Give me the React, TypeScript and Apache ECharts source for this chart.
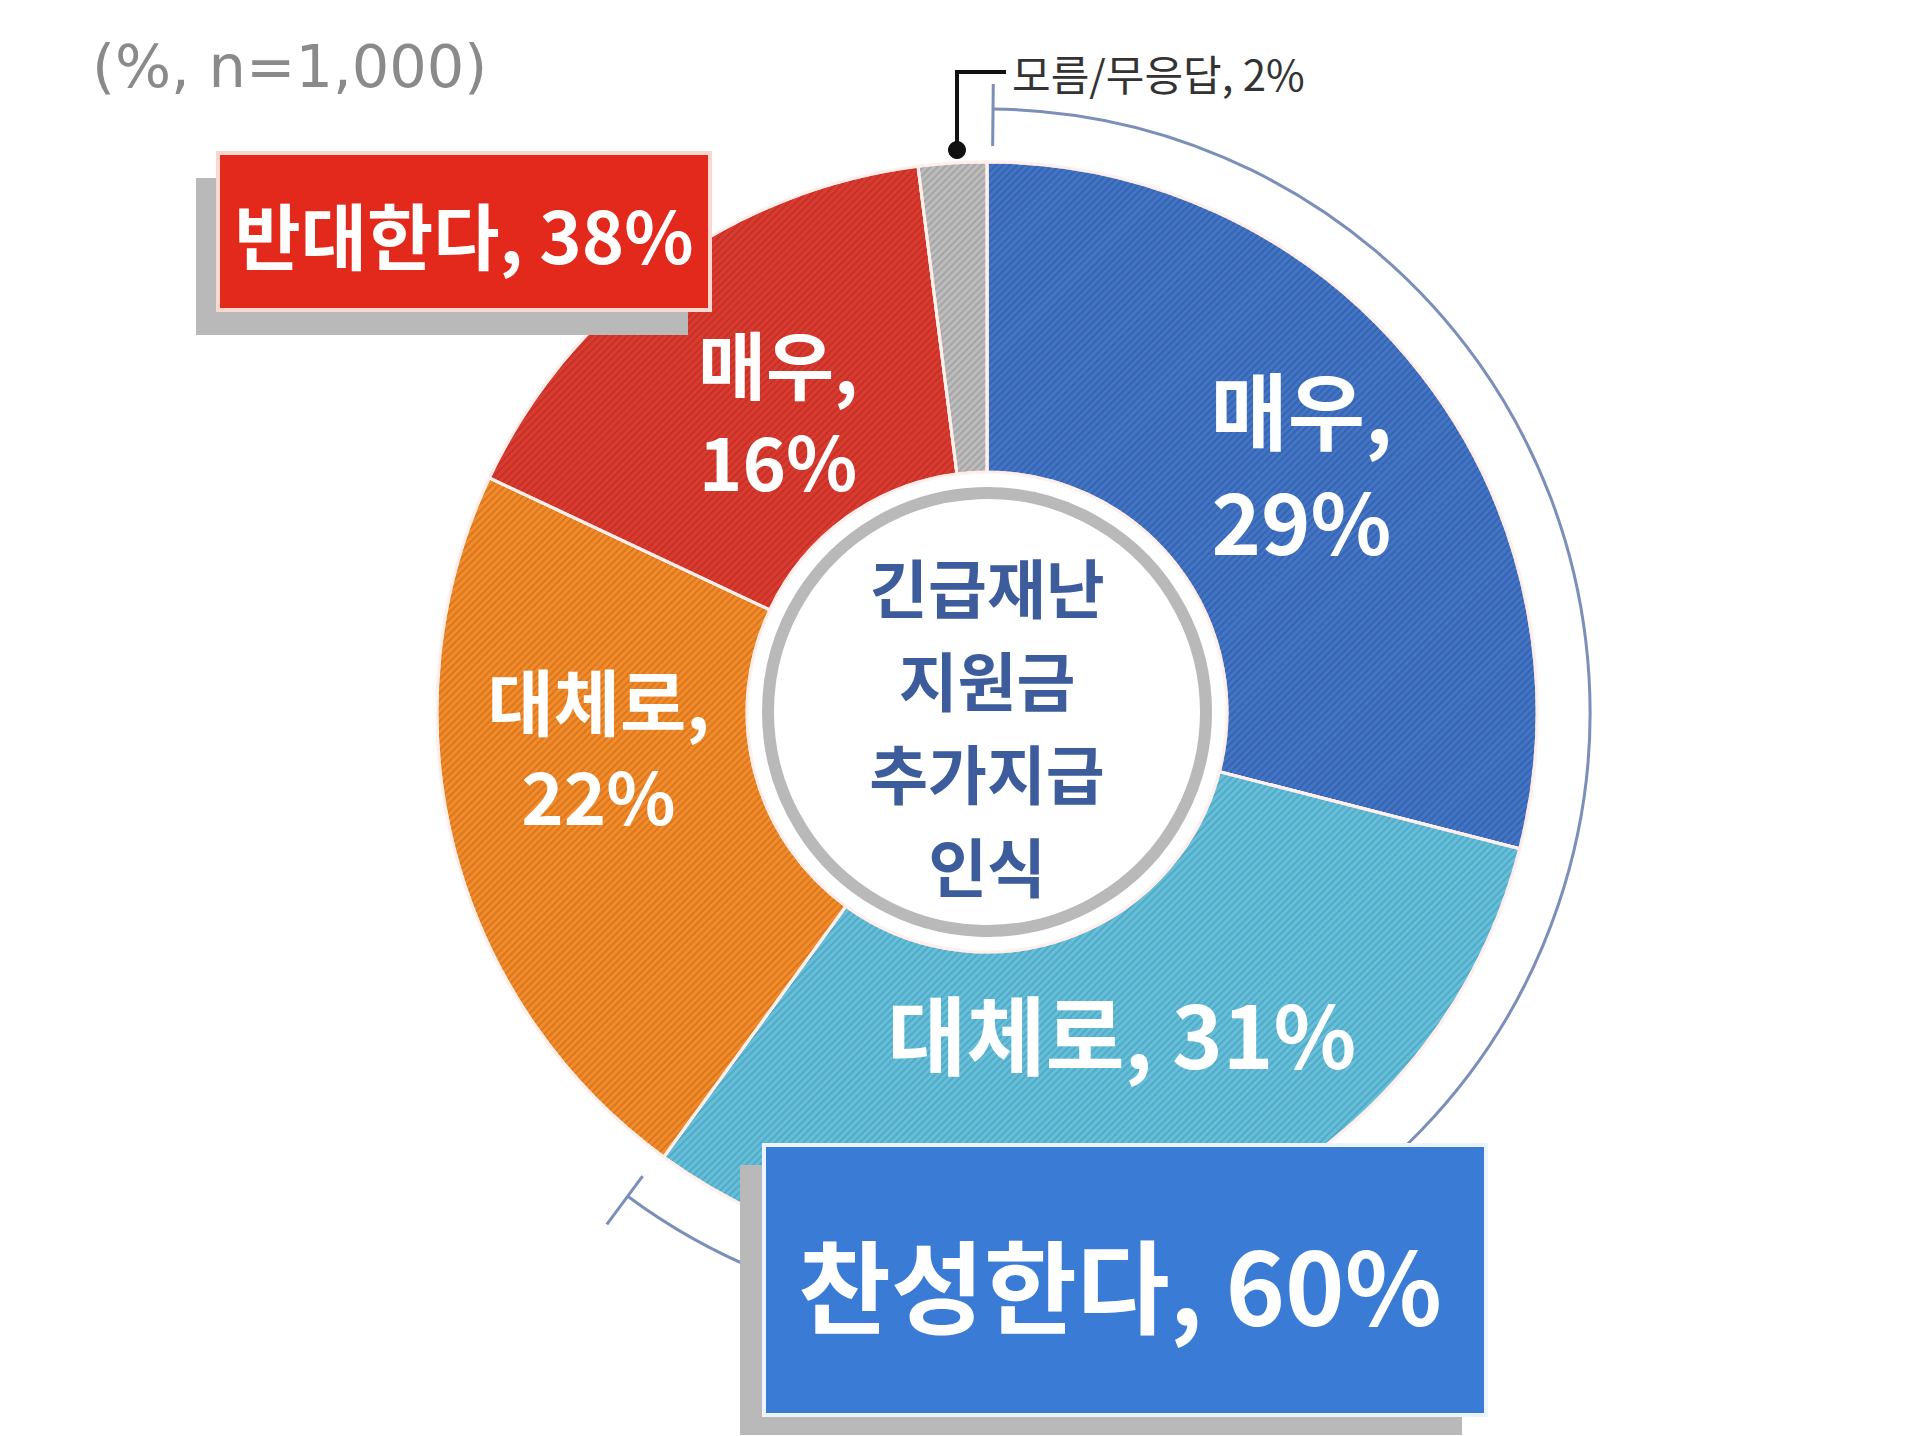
import React, { useEffect, useRef } from "react";
import * as echarts from "echarts";

// survey answers, clockwise from 12 o'clock
const sliceNames = ["매우", "대체로", "대체로", "매우", "모름/무응답"];
const sliceValues = [29, 31, 22, 16, 2];
const sliceGroups = ["agree", "agree", "oppose", "oppose", "none"];
const groupTitles = { agree: "찬성한다", oppose: "반대한다" };
const sampleNote = "(%, n=1,000)";
const centerTitle = ["긴급재난", "지원금", "추가지급", "인식"];

const FONT = '"Noto Sans CJK KR", "Noto Sans", sans-serif';
const CX = 987;
const CY = 712;

const sliceColors = ["#4275c6", "#63c0dc", "#f48a28", "#dc3a2f", "#bcbcbc"];

const App: React.FC = () => {
  const chartRef = useRef<HTMLDivElement>(null);

  useEffect(() => {
    document.body.style.margin = "0";
    if (!chartRef.current) return;
    const chart = echarts.init(chartRef.current, undefined, { renderer: "svg" });

    const groupSum = (g: string) =>
      sliceValues.reduce((s, v, i) => (sliceGroups[i] === g ? s + v : s), 0);
    const agree = groupSum("agree");
    const oppose = groupSum("oppose");

    // bracket arc round the "agree" slices
    const a0 = -Math.PI / 2 + 0.01;
    const a1 = -Math.PI / 2 + (agree / 100) * Math.PI * 2 + 0.01;
    const tick = (a: number, r1: number, r2: number) => ({
      type: "line",
      z: 50,
      shape: {
        x1: CX + r1 * Math.cos(a),
        y1: CY + r1 * Math.sin(a),
        x2: CX + r2 * Math.cos(a),
        y2: CY + r2 * Math.sin(a),
      },
      style: { stroke: "#7b8fb9", lineWidth: 3 },
    });

    const stripe = (color: string) => ({
      symbol: "rect",
      symbolSize: 1,
      dashArrayX: [1, 0],
      dashArrayY: [2, 3],
      rotation: -Math.PI / 4,
      color,
    });

    // nudges of the inside labels from the ring middle
    const labelOffsets = [
      [0, -5],
      [0, -55],
      [-3, -65],
      [25, 20],
      [0, 0],
    ];
    const labelSizes = [84, 86, 72, 74, 42];

    chart.setOption({
      animation: false,
      aria: { enabled: true, label: { enabled: false }, decal: { show: true } },
      series: [
        {
          type: "pie",
          center: [CX, CY],
          radius: [240, 550],
          startAngle: 90,
          clockwise: true,
          silent: true,
          avoidLabelOverlap: false,
          itemStyle: { borderColor: "rgba(255,240,236,0.9)", borderWidth: 3 },
          labelLine: { show: false },
          label: {
            show: true,
            position: "inside",
            color: "#fff",
            fontFamily: FONT,
            fontWeight: "bold",
          },
          data: sliceValues.map((v, i) => {
            const outside = sliceGroups[i] === "none";
            return {
              value: v,
              name: sliceNames[i],
              itemStyle: {
                color: sliceColors[i],
                decal: stripe(i === 0 ? "rgba(20,40,90,0.22)" : "rgba(0,0,0,0.12)"),
              },
              label: outside
                ? {
                    position: "outside",
                    formatter: `${sliceNames[i]}, ${v}%`,
                    color: "#333",
                    fontWeight: "normal",
                    fontSize: labelSizes[i],
                  }
                : {
                    formatter:
                      i === 1 ? `${sliceNames[i]}, ${v}%` : `${sliceNames[i]},\n${v}%`,
                    fontSize: labelSizes[i],
                    lineHeight: labelSizes[i] * 1.32,
                    offset: labelOffsets[i],
                  },
              labelLine: outside
                ? { show: true, lineStyle: { color: "#111", width: 4 } }
                : { show: false },
            };
          }),
          labelLayout: (p: any) =>
            sliceGroups[p.dataIndex] === "none"
              ? {
                  x: 1012,
                  y: 72,
                  align: "left",
                  verticalAlign: "middle",
                  labelLinePoints: [
                    [957, 150],
                    [957, 72],
                    [1006, 72],
                  ],
                }
              : {},
        },
      ],
      graphic: [
        {
          type: "circle",
          z: 60,
          shape: { cx: 957, cy: 150, r: 9 },
          style: { fill: "#111" },
        },
        {
          type: "arc",
          z: 50,
          shape: { cx: CX, cy: CY, r: 603, startAngle: a0, endAngle: a1, clockwise: true },
          style: { stroke: "#7b8fb9", lineWidth: 3, fill: "none" },
        },
        tick(a0, 566, 628),
        tick(a1, 578, 638),
        {
          type: "circle",
          z: 60,
          shape: { cx: CX, cy: CY, r: 219 },
          style: { fill: "#fff", stroke: "#b9b9b9", lineWidth: 12 },
        },
        {
          type: "text",
          z: 61,
          x: CX,
          y: CY + 12,
          style: {
            text: centerTitle.join("\n"),
            align: "center",
            verticalAlign: "middle",
            fontFamily: FONT,
            fontWeight: "bold",
            fontSize: 64,
            lineHeight: 93,
            fill: "#3d5c9c",
          },
        },
        {
          type: "text",
          z: 61,
          x: 92,
          y: 66,
          style: {
            text: sampleNote,
            verticalAlign: "middle",
            fontFamily: '"DejaVu Sans", sans-serif',
            fontSize: 59,
            fill: "#8a8a8a",
          },
        },
        // 반대 box
        {
          type: "rect",
          z: 70,
          shape: { x: 196, y: 178, width: 492, height: 157 },
          style: { fill: "#b9b9b9" },
        },
        {
          type: "rect",
          z: 71,
          shape: { x: 218, y: 153, width: 492, height: 157 },
          style: { fill: "#e2291c", stroke: "#f9d9cf", lineWidth: 4 },
        },
        {
          type: "text",
          z: 72,
          x: 464,
          y: 232,
          style: {
            text: `${groupTitles.oppose}, ${oppose}%`,
            align: "center",
            verticalAlign: "middle",
            fontFamily: FONT,
            fontWeight: "bold",
            fontSize: 72,
            fill: "#fff",
          },
        },
        // 찬성 box
        {
          type: "rect",
          z: 70,
          shape: { x: 740, y: 1165, width: 722, height: 270 },
          style: { fill: "#b9b9b9" },
        },
        {
          type: "rect",
          z: 71,
          shape: { x: 764, y: 1145, width: 722, height: 270 },
          style: { fill: "#3a7bd6", stroke: "#eef4ff", lineWidth: 4 },
        },
        {
          type: "text",
          z: 72,
          x: 1120,
          y: 1282,
          style: {
            text: `${groupTitles.agree}, ${agree}%`,
            align: "center",
            verticalAlign: "middle",
            fontFamily: FONT,
            fontWeight: "bold",
            fontSize: 101,
            fill: "#fff",
          },
        },
      ],
    });

    return () => {
      chart.dispose();
    };
  }, []);

  return <div ref={chartRef} style={{ width: "1920px", height: "1436px", background: "#fff" }} />;
};

export default App;
